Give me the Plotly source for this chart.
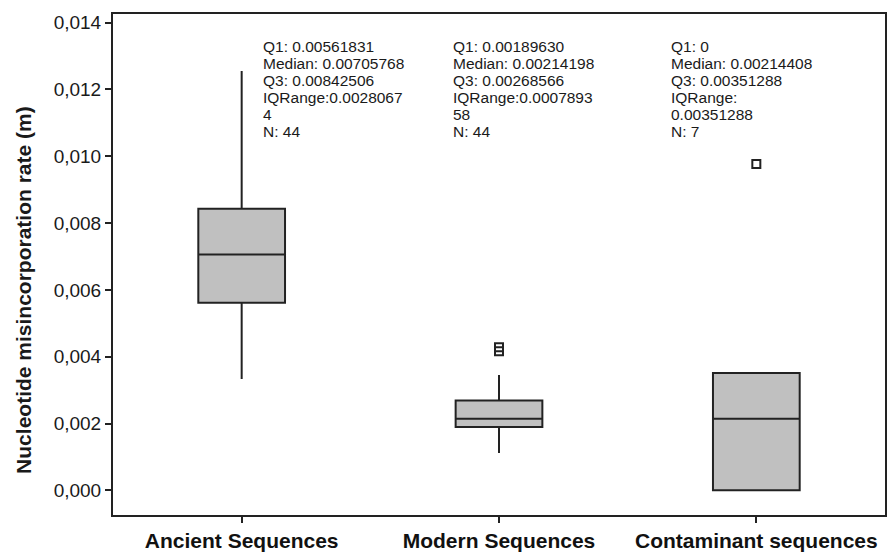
import plotly.graph_objects as go

# ---- data ----
categories = ["Ancient Sequences", "Modern Sequences", "Contaminant sequences"]
q1 = [0.00561831, 0.00189630, 0.0]
median = [0.00705768, 0.00214198, 0.00214408]
q3 = [0.00842506, 0.00268566, 0.00351288]
lower_whisker = [0.00333, 0.00112, 0.0]
upper_whisker = [0.01255, 0.00345, 0.00351288]
outlier_cat = ["Modern Sequences", "Modern Sequences", "Contaminant sequences"]
outlier_val = [0.00428, 0.00416, 0.00977]

stat_lines = [
    ["Q1: 0.00561831", "Median: 0.00705768", "Q3: 0.00842506", "IQRange:0.0028067", "4", "N: 44"],
    ["Q1: 0.00189630", "Median: 0.00214198", "Q3: 0.00268566", "IQRange:0.0007893", "58", "N: 44"],
    ["Q1: 0", "Median: 0.00214408", "Q3: 0.00351288", "IQRange:", "0.00351288", "N: 7"],
]
y_ticks = [0.000, 0.002, 0.004, 0.006, 0.008, 0.010, 0.012, 0.014]

# ---- figure ----
W, H = 889, 554
ML, MR, MT, MB = 113, 2, 14, 32
PW, PH = W - ML - MR, H - MT - MB

dark = "#222222"
fig = go.Figure()
fig.add_trace(go.Box(
    x=categories, q1=q1, median=median, q3=q3,
    lowerfence=lower_whisker, upperfence=upper_whisker,
    fillcolor="#c0c0c0", line=dict(color=dark, width=2),
    width=0.337, whiskerwidth=0, boxpoints=False, showlegend=False,
    hoverinfo="skip",
))
fig.add_trace(go.Scatter(
    x=outlier_cat, y=outlier_val, mode="markers",
    marker=dict(symbol="square-open", size=8, color=dark, line=dict(width=2, color=dark)),
    showlegend=False, hoverinfo="skip",
))

def px_to_paper_x(px):
    return (px - ML) / PW

def px_to_paper_y(py):
    return (H - MB - py) / PH

text_left_px = [262, 453, 671]
line_y_px = [47, 64.3, 81.6, 98.9, 116.2, 133.5]
annotations = []
for lines, lx in zip(stat_lines, text_left_px):
    for line, ly in zip(lines, line_y_px):
        annotations.append(dict(
            text=line, xref="paper", yref="paper",
            x=px_to_paper_x(lx), y=px_to_paper_y(ly),
            xanchor="left", yanchor="middle", showarrow=False, borderpad=0,
            font=dict(family="Liberation Sans, Arial", size=15.5, color="#1a1a1a"),
        ))
annotations.append(dict(
    text="<b>Nucleotide misincorporation rate (m)</b>", xref="paper", yref="paper",
    x=px_to_paper_x(23), y=px_to_paper_y(293.5), textangle=-90,
    xanchor="center", yanchor="middle", showarrow=False,
    font=dict(family="Liberation Sans, Arial", size=21, color="#1a1a1a"),
))

fig.update_layout(
    width=W, height=H,
    margin=dict(l=ML, r=MR, t=MT, b=MB, pad=0),
    plot_bgcolor="white", paper_bgcolor="white",
    separators=", ",
    annotations=annotations,
    xaxis=dict(
        type="category", range=[-0.5, 2.5],
        showline=True, mirror=True, linecolor=dark, linewidth=2,
        ticks="outside", ticklen=6, tickwidth=2, tickcolor=dark,
        tickfont=dict(family="Liberation Sans, Arial", size=21, color="#111111"),
        tickprefix="<b>", ticksuffix="</b>",
        showgrid=False, zeroline=False,
    ),
    yaxis=dict(
        range=[-0.000738, 0.014257],
        tickvals=y_ticks, tickformat=".3f",
        showline=True, mirror=True, linecolor=dark, linewidth=2,
        ticks="outside", ticklen=6, tickwidth=2, tickcolor=dark,
        tickfont=dict(family="Liberation Sans, Arial", size=19, color="#1a1a1a"),
        showgrid=False, zeroline=False,
    ),
)

fig.write_html("out.html")
